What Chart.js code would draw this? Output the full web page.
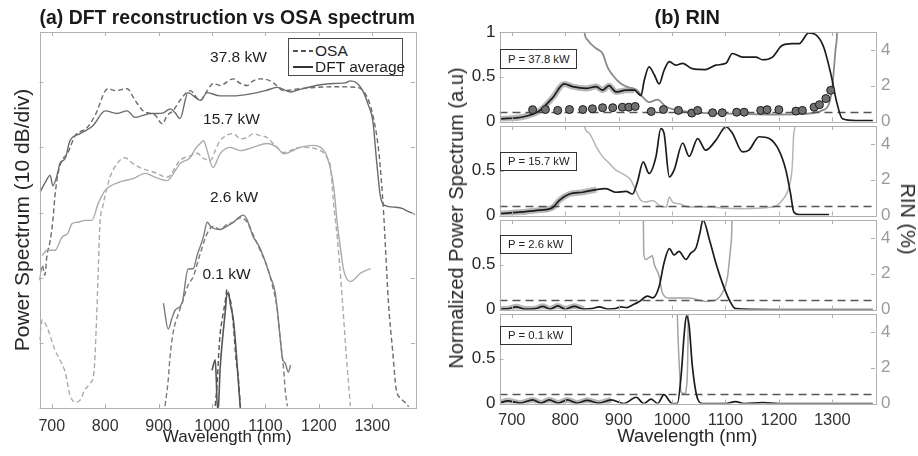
<!DOCTYPE html>
<html><head><meta charset="utf-8">
<script src="https://cdn.jsdelivr.net/npm/chart.js"></script>
<style>
html,body{margin:0;padding:0;background:#fff;width:918px;height:456px;overflow:hidden;}
canvas{position:absolute;left:0;top:0;}
.t{position:absolute;font-family:'Liberation Sans',Arial,Helvetica,sans-serif;color:#262626;white-space:nowrap;line-height:1;}
.c{transform:translate(-50%,-50%);}
.pbox{position:absolute;box-sizing:border-box;border:1.5px solid #333;background:#fff;font-family:'Liberation Sans',Arial,sans-serif;font-size:11.3px;color:#222;padding-left:7px;display:flex;align-items:center;white-space:nowrap;}
</style></head><body>
<canvas id="cL" width="918" height="456"></canvas>
<canvas id="c1" width="918" height="456"></canvas>
<canvas id="c2" width="918" height="456"></canvas>
<canvas id="c3" width="918" height="456"></canvas>
<canvas id="c4" width="918" height="456"></canvas>
<div id="overlay"></div>
<script>
// ---------- axis limits and ticks ----------
const xMin = 677, xMax = 1380;
const wlTicks = [700, 800, 900, 1000, 1100, 1200, 1300];
const dbTicks = [0, 10, 20, 30, 40, 50];
const specTicksTop = [0, 0.5, 1];
const specTicks = [0, 0.5];
const rinTicks = [0, 2, 4];
const rinThreshold = 0.5;
const powerLabels = ['37.8 kW', '15.7 kW', '2.6 kW', '0.1 kW'];
const boxLabels = ['P = 37.8 kW', 'P = 15.7 kW', 'P = 2.6 kW', 'P = 0.1 kW'];

// ---------- (a) power spectra, dB (10 dB per division) ----------
const wl378Dft = [678,687,697,702,712,715,725,734,753,777,800,822,841,856,871,884,897,909,922,931,940,955,965,978,991,1015,1040,1072,1100,1122,1147,1165,1203,1228,1250,1259,1272,1282,1293,1301,1308,1315,1323,1344,1357,1366,1381];
const pw378Dft = [33.1,34.5,35.7,34.1,36.4,37.5,38.3,41.0,42.1,43.3,45.6,45.2,45.6,44.6,44.9,45.2,45.2,45.3,45.9,45.3,44.4,48.4,47.9,47.2,48.4,47.9,47.9,48.2,48.7,49.2,48.5,48.9,49.6,49.8,49.9,50.2,49.8,48.7,46.4,44.1,38.0,32.6,31.1,30.8,30.6,30.2,29.7];
const wl378Osa = [677,682,687,691,697,702,706,712,719,729,744,766,781,805,819,841,856,871,894,907,916,927,940,959,978,991,1002,1015,1040,1053,1066,1077,1090,1103,1115,1134,1165,1227,1272,1291,1302,1312,1317,1321,1325,1330,1338,1345,1353,1362,1368];
const pw378Osa = [19.6,21.9,20.4,23.4,25.7,28.8,32.6,36.1,38.0,39.0,41.8,43.0,44.9,49.0,48.7,49.0,47.2,45.6,44.9,43.6,44.9,45.6,47.2,48.7,47.2,48.7,49.8,49.5,50.5,49.8,49.5,50.2,50.5,50.4,49.9,48.7,49.0,49.3,49.2,47.6,44.6,39.5,34.9,30.3,24.2,16.5,8.9,2.8,1.5,0.8,0.2];
const wl157Dft = [682,691,706,719,730,738,749,762,775,787,800,824,852,875,894,916,931,940,959,969,978,984,991,997,1002,1015,1034,1053,1077,1103,1122,1134,1165,1190,1203,1216,1228,1235,1241,1246,1259,1278,1297];
const pw157Dft = [23.4,24.2,24.2,26.2,26.8,28.3,28.5,28.8,28.8,31.4,33.4,34.6,35.2,36.0,35.4,34.9,36.4,37.5,38.4,39.8,40.6,41.0,39.5,37.7,36.9,39.0,40.0,39.5,40.0,40.6,40.0,39.0,40.0,40.3,40.0,38.4,33.8,27.9,24.2,21.3,19.4,20.7,21.4];
const wl157Osa = [677,682,691,706,715,725,734,744,753,762,772,779,783,787,790,796,809,824,837,852,865,894,916,940,959,972,984,997,1006,1015,1040,1053,1066,1077,1090,1103,1118,1134,1165,1203,1216,1222,1227,1235,1244,1252,1259];
const pw157Osa = [10.4,13.5,12.4,8.9,7.4,5.5,2.0,0.9,1.2,2.8,3.8,5.5,11.9,21.1,28.0,31.1,35.4,37.7,38.4,37.5,36.9,36.1,35.4,38.0,38.7,39.1,38.3,38.0,39.5,41.0,42.1,41.3,41.5,42.1,41.8,41.5,40.3,39.2,40.0,39.5,38.3,36.9,31.9,25.7,16.5,7.4,0.3];
const wl26Dft = [909,918,925,931,944,955,965,972,978,984,991,997,1002,1015,1028,1040,1053,1059,1066,1077,1087,1096,1109,1118,1122,1128,1132,1137,1143,1147];
const pw26Dft = [16.1,12.1,13.8,15.0,16.1,21.3,21.4,23.4,24.8,26.3,28.5,27.9,27.6,27.4,27.9,28.5,29.4,29.6,28.8,26.3,25.0,23.3,20.2,17.8,15.2,10.4,7.5,6.9,5.5,6.6];
const wl26Osa = [912,918,921,927,936,944,955,965,978,991,1002,1015,1028,1040,1053,1066,1077,1090,1103,1113,1122,1128,1134,1137,1141];
const pw26Osa = [0.3,4.3,7.5,11.5,14.2,16.1,18.8,20.2,23.7,26.8,27.9,27.4,28.2,28.5,29.2,28.5,26.6,24.2,21.7,18.8,15.2,10.4,6.0,2.8,0.3];
const wl01Dft = [1000,1006,1008,1010,1012,1015,1019,1025,1028,1032,1034,1040,1044,1049,1053];
const pw01Dft = [5.8,7.4,4.3,0,0.3,5.8,10.0,15.0,17.6,17.2,16.1,13.5,10.0,4.3,0];
const wl01Osa = [1006,1010,1012,1015,1019,1025,1028,1032,1036,1040,1045,1049,1053];
const pw01Osa = [0.3,4.3,7.5,11.2,13.6,16.5,18.2,17.3,15.8,12.6,7.4,4.9,0.3];

// ---------- (b) normalized spectra, RIN (%) ----------
const wlP1 = [680,720,752,777,798,814,839,858,870,882,895,914,929,942,948,957,967,976,985,995,1007,1020,1038,1063,1082,1101,1113,1132,1157,1169,1188,1206,1225,1238,1256,1269,1284,1297,1309,1319,1344,1376];
const spP1 = [0.03,0.05,0.12,0.27,0.42,0.39,0.37,0.39,0.35,0.40,0.33,0.35,0.35,0.29,0.46,0.61,0.52,0.42,0.57,0.67,0.63,0.65,0.59,0.58,0.63,0.65,0.76,0.72,0.72,0.69,0.72,0.85,0.87,0.87,0.99,0.97,0.83,0.54,0.20,0.03,0.01,0.01];
const wlRinP1 = [826,836,842,858,870,879,889,904,920,935,945,957,973,988,1013,1063,1126,1188,1250,1281,1294,1300,1306,1309,1312];
const rinP1 = [9,5.0,4.55,4.08,3.8,3.05,2.58,2.12,1.89,1.74,1.37,1.08,1.22,0.84,0.62,0.47,0.43,0.39,0.43,0.62,0.99,1.93,3.99,5.0,9];
const wlDots = [739,763,786,808,833,851,870,889,907,919,931,961,984,1012,1037,1048,1076,1094,1121,1135,1166,1178,1200,1232,1244,1266,1276,1288,1297];
const rinDots = [0.66,0.67,0.62,0.67,0.67,0.71,0.77,0.77,0.80,0.80,0.84,0.56,0.67,0.62,0.47,0.62,0.49,0.49,0.52,0.52,0.62,0.66,0.66,0.58,0.62,0.80,0.94,1.28,1.74];

const wlP2 = [680,720,752,777,789,808,833,858,876,895,914,926,935,946,957,970,979,985,995,1004,1020,1032,1048,1063,1082,1101,1113,1132,1144,1163,1182,1200,1213,1222,1228,1238,1294];
const spP2 = [0.02,0.04,0.06,0.09,0.17,0.24,0.26,0.29,0.30,0.26,0.27,0.24,0.37,0.60,0.47,0.66,0.97,0.92,0.43,0.51,0.81,0.66,0.86,0.73,0.84,0.99,0.92,0.71,0.73,0.88,0.86,0.73,0.51,0.24,0.04,0.01,0.01];
const wlRinP2 = [826,836,845,858,870,883,895,907,923,932,942,951,964,976,989,995,1001,1013,1032,1063,1126,1188,1206,1219,1225,1228,1230,1233];
const rinP2 = [9,5.0,4.6,3.85,3.29,2.9,2.53,2.34,1.97,1.4,0.84,0.75,0.84,0.56,0.47,1.03,0.75,0.66,0.47,0.47,0.38,0.47,0.84,1.59,2.71,4.6,5.0,9];

const wlP3 = [680,695,708,725,745,758,772,786,800,817,835,850,864,880,894,904,915,926,939,954,964,976,985,995,1004,1013,1026,1035,1045,1052,1058,1070,1082,1094,1107,1119,1188,1376];
const spP3 = [0.005,0.01,0.03,0.005,0.01,0.035,0.005,0.04,0.005,0.035,0.005,0.01,0.03,0.005,0.01,0.03,0.02,0.05,0.09,0.15,0.13,0.26,0.52,0.68,0.61,0.65,0.56,0.63,0.69,0.85,1.0,0.78,0.52,0.30,0.11,0.01,0.0,0.0];
const wlRinP3 = [945,947,950,957,963,967,976,982,995,1032,1063,1082,1094,1104,1110,1112,1113];
const rinP3 = [9,3.2,2.8,2.9,3.0,2.5,1.85,0.92,0.64,0.64,0.45,0.54,0.92,1.85,3.54,4.66,9];

const wlP4 = [680,692,715,739,755,770,787,804,822,841,863,886,910,933,947,961,973,985,1000,1010,1017,1023,1027,1032,1038,1048,1057,1100,1119,1135,1170,1200,1376];
const spP4 = [0.01,0.03,0.005,0.04,0.005,0.04,0.005,0.04,0.005,0.035,0.005,0.04,0.0,0.07,0.0,0.05,0.0,0.1,0.0,0.0,0.31,0.79,0.98,0.87,0.42,0.05,0.0,0.0,0.02,0.0,0.01,0.0,0.0];
const wlRinP4 = [1008,1010,1013,1017,1023,1028,1030,1031];
const rinP4 = [9,5,2.5,0.65,0.55,1.2,4,9];

// wavelength where the grey shot-to-shot band ends, per panel
const bandEnd = [940, 870, 840, 900];

// ---------- helpers ----------
const FONT = "'Liberation Sans', Arial, Helvetica, sans-serif";
Chart.defaults.font.family = FONT;
Chart.defaults.color = '#262626';
Chart.defaults.animation = false;
Chart.defaults.plugins.legend.display = false;
Chart.defaults.plugins.tooltip.enabled = false;

const pts = (xs, ys) => xs.map((x, i) => ({x: x, y: ys[i]}));
const setTicks = arr => (s => { s.ticks = arr.map(v => ({value: v})); });
const plain = v => String(v);

const frameTicks = {
  id: 'frameTicks',
  afterDatasetsDraw(chart, args, o) {
    const {ctx, chartArea: a, scales} = chart;
    const L = o.len || 4, r = v => Math.round(v) + 0.5;
    ctx.save();
    ctx.strokeStyle = o.color || '#aaa';
    ctx.lineWidth = 1;
    ctx.beginPath();
    scales.x.ticks.forEach(t => {
      const p = r(scales.x.getPixelForValue(t.value));
      ctx.moveTo(p, a.bottom); ctx.lineTo(p, a.bottom - L);
      ctx.moveTo(p, a.top); ctx.lineTo(p, a.top + L);
    });
    scales.y.ticks.forEach(t => {
      const p = r(scales.y.getPixelForValue(t.value));
      ctx.moveTo(a.left, p); ctx.lineTo(a.left + L, p);
      if (!scales.y2) { ctx.moveTo(a.right, p); ctx.lineTo(a.right - L, p); }
    });
    if (scales.y2) scales.y2.ticks.forEach(t => {
      const p = r(scales.y2.getPixelForValue(t.value));
      ctx.moveTo(a.right, p); ctx.lineTo(a.right - L, p);
    });
    ctx.stroke();
    ctx.strokeRect(r(a.left), r(a.top), Math.round(a.right - a.left), Math.round(a.bottom - a.top));
    ctx.restore();
  }
};

function line(xs, ys, color, dashed, extra) {
  return Object.assign({
    data: pts(xs, ys), borderColor: color, borderWidth: 1.4,
    borderDash: dashed ? [5, 3] : [], pointRadius: 0,
    cubicInterpolationMode: 'monotone', fill: false
  }, extra || {});
}

// ---------- (a) ----------
const c378 = '#6b6b6b', c157 = '#ababab', c26 = '#7b7b7b', c01 = '#555555';
new Chart(document.getElementById('cL'), {
  type: 'line',
  data: { datasets: [
    line(wl157Osa, pw157Osa, c157, true),
    line(wl157Dft, pw157Dft, c157, false),
    line(wl26Osa, pw26Osa, c26, true),
    line(wl26Dft, pw26Dft, c26, false),
    line(wl01Osa, pw01Osa, c01, true),
    line(wl01Dft, pw01Dft, c01, false, {borderWidth: 1.6}),
    line(wl378Osa, pw378Osa, c378, true),
    line(wl378Dft, pw378Dft, c378, false)
  ]},
  options: {
    responsive: false, devicePixelRatio: 1,
    layout: { padding: { left: 0, right: 503, top: 0, bottom: 0 } },
    plugins: {
      title: { display: true, text: '(a) DFT reconstruction vs OSA spectrum', fullSize: false,
               font: { size: 20, weight: 'bold' }, color: '#1a1a1a', padding: { top: 6, bottom: 2 } },
      frameTicks: { color: '#b0b0b0', len: 4 }
    },
    scales: {
      x: { type: 'linear', min: xMin, max: xMax, afterBuildTicks: setTicks(wlTicks),
           afterFit: s => { s.height = 48; },
           grid: { display: false, drawTicks: false, tickLength: 0 }, border: { display: false },
           ticks: { font: { size: 16 }, padding: 9, color: '#333', maxRotation: 0, autoSkip: false, callback: plain },
           title: { display: true, text: 'Wavelength (nm)', font: { size: 17 }, color: '#262626', padding: { top: 0, bottom: 8 } } },
      y: { type: 'linear', min: 0, max: 57.7, afterBuildTicks: setTicks(dbTicks),
           afterFit: s => { s.width = 39.5; },
           grid: { display: false, drawTicks: false, tickLength: 0 }, border: { display: false },
           ticks: { display: false },
           title: { display: true, text: 'Power Spectrum (10 dB/div)', font: { size: 21 }, color: '#262626', padding: { top: 11, bottom: 0 } } }
    }
  },
  plugins: [frameTicks]
});

// ---------- (b) ----------
const panels = [
  { id: 'c1', wl: wlP1, sp: spP1, rwl: wlRinP1, rin: rinP1, rinColor: '#8a8a8a', yT: specTicksTop, pad: { top: 0, bottom: 334.5 } },
  { id: 'c2', wl: wlP2, sp: spP2, rwl: wlRinP2, rin: rinP2, rinColor: '#b5b5b5', yT: specTicks, pad: { top: 126, bottom: 240.5 } },
  { id: 'c3', wl: wlP3, sp: spP3, rwl: wlRinP3, rin: rinP3, rinColor: '#a3a3a3', yT: specTicks, pad: { top: 220, bottom: 146.5 } },
  { id: 'c4', wl: wlP4, sp: spP4, rwl: wlRinP4, rin: rinP4, rinColor: '#a3a3a3', yT: specTicks, pad: { top: 314, bottom: 0 } }
];

panels.forEach((p, i) => {
  const band = pts(p.wl, p.sp).filter(d => d.x <= bandEnd[i]);
  const ds = [
    { data: band, borderColor: '#b8b8b8', borderWidth: 6, pointRadius: 0, cubicInterpolationMode: 'monotone', yAxisID: 'y', order: 4 },
    { data: pts(p.rwl, p.rin), borderColor: p.rinColor, borderWidth: i === 0 ? 1.8 : 1.5, pointRadius: 0, cubicInterpolationMode: 'monotone', yAxisID: 'y2', order: 3 },
    { data: pts([xMin, xMax], [rinThreshold, rinThreshold]), borderColor: '#555', borderWidth: 1.5, borderDash: [8, 5], pointRadius: 0, yAxisID: 'y2', order: 2 },
    { data: pts(p.wl, p.sp), borderColor: '#1c1c1c', borderWidth: 1.7, pointRadius: 0, cubicInterpolationMode: 'monotone', yAxisID: 'y', order: 1 }
  ];
  if (i === 0) ds.push({ data: pts(wlDots, rinDots), showLine: false, pointRadius: 4, pointBackgroundColor: '#707070',
                         pointBorderColor: '#1a1a1a', pointBorderWidth: 1, yAxisID: 'y2', order: 0 });
  const last = i === 3;
  new Chart(document.getElementById(p.id), {
    type: 'line',
    data: { datasets: ds },
    options: {
      responsive: false, devicePixelRatio: 1,
      layout: { padding: { left: 440, right: 0, top: p.pad.top, bottom: p.pad.bottom } },
      plugins: {
        title: { display: i === 0, text: '(b) RIN', fullSize: false, font: { size: 20, weight: 'bold' }, color: '#1a1a1a', padding: { top: 6, bottom: 2 } },
        frameTicks: { color: '#b0b0b0', len: 4 }
      },
      scales: {
        x: { type: 'linear', min: xMin, max: xMax, afterBuildTicks: setTicks(wlTicks),
             afterFit: s => { s.height = last ? 52.5 : 0; },
             grid: { display: false, drawTicks: false, tickLength: 0 }, border: { display: false },
             ticks: { display: last, font: { size: 16.5 }, padding: 7.5, color: '#333', maxRotation: 0, autoSkip: false, callback: plain },
             title: { display: last, text: 'Wavelength (nm)', font: { size: 18.5 }, color: '#262626', padding: { top: 0, bottom: 8 } } },
        y: { type: 'linear', position: 'left', min: 0, max: 1, afterBuildTicks: setTicks(p.yT),
             afterFit: s => { s.width = 59.5; },
             grid: { display: false, drawTicks: false, tickLength: 0 }, border: { display: false },
             ticks: { font: { size: 17 }, padding: 4, color: '#262626', callback: plain } },
        y2: { type: 'linear', position: 'right', min: 0, max: 5, afterBuildTicks: setTicks(rinTicks),
              afterFit: s => { s.width = 43; },
              grid: { display: false, drawTicks: false, tickLength: 0 }, border: { display: false },
              ticks: { font: { size: 17 }, padding: 6, color: '#9a9a9a', callback: plain } }
      }
    },
    plugins: [frameTicks]
  });
});

// ---------- text overlays ----------
const ov = document.getElementById('overlay');
function addText(txt, x, y, size, extra) {
  const d = document.createElement('div');
  d.className = 't c';
  d.textContent = txt;
  d.style.left = x + 'px'; d.style.top = y + 'px'; d.style.fontSize = size + 'px';
  if (extra) Object.assign(d.style, extra);
  ov.appendChild(d);
  return d;
}
const labelPos = [[238.5, 56.5], [231.5, 118.5], [234, 196.5], [226.5, 274]];
powerLabels.forEach((t, i) => addText(t, labelPos[i][0], labelPos[i][1], 15.5, { color: '#1e1e1e' }));

// legend of (a)
const lg = document.createElement('div');
Object.assign(lg.style, { position: 'absolute', left: '288px', top: '38px', width: '115px', height: '38px',
  boxSizing: 'border-box', border: '1px solid #4a4a4a', background: '#fff' });
ov.appendChild(lg);
const dashS = document.createElement('div');
Object.assign(dashS.style, { position: 'absolute', left: '293px', top: '50px', width: '20px', height: '1.5px',
  background: 'repeating-linear-gradient(90deg,#555 0 5px,transparent 5px 8px)' });
ov.appendChild(dashS);
const solidS = document.createElement('div');
Object.assign(solidS.style, { position: 'absolute', left: '293px', top: '66px', width: '20px', height: '1.5px', background: '#333' });
ov.appendChild(solidS);
addText('OSA', 315, 51, 15.5, { transform: 'translate(0,-50%)', color: '#1e1e1e' });
addText('DFT average', 315, 67, 15.5, { transform: 'translate(0,-50%)', color: '#1e1e1e' });

// P boxes of (b)
const boxPos = [[49, 77], [151.5, 77], [234.5, 72], [325.5, 72]];
boxLabels.forEach((t, i) => {
  const b = document.createElement('div');
  b.className = 'pbox';
  b.textContent = t;
  Object.assign(b.style, { left: '500px', top: boxPos[i][0] + 'px', width: boxPos[i][1] + 'px', height: '19.5px' });
  ov.appendChild(b);
});

// shared axis labels of (b)
addText('Normalized Power Spectrum (a.u)', 456, 218, 20, { transform: 'translate(-50%,-50%) rotate(-90deg)' });
addText('RIN (%)', 908, 219, 20, { transform: 'translate(-50%,-50%) rotate(90deg)' });
</script>
</body></html>
